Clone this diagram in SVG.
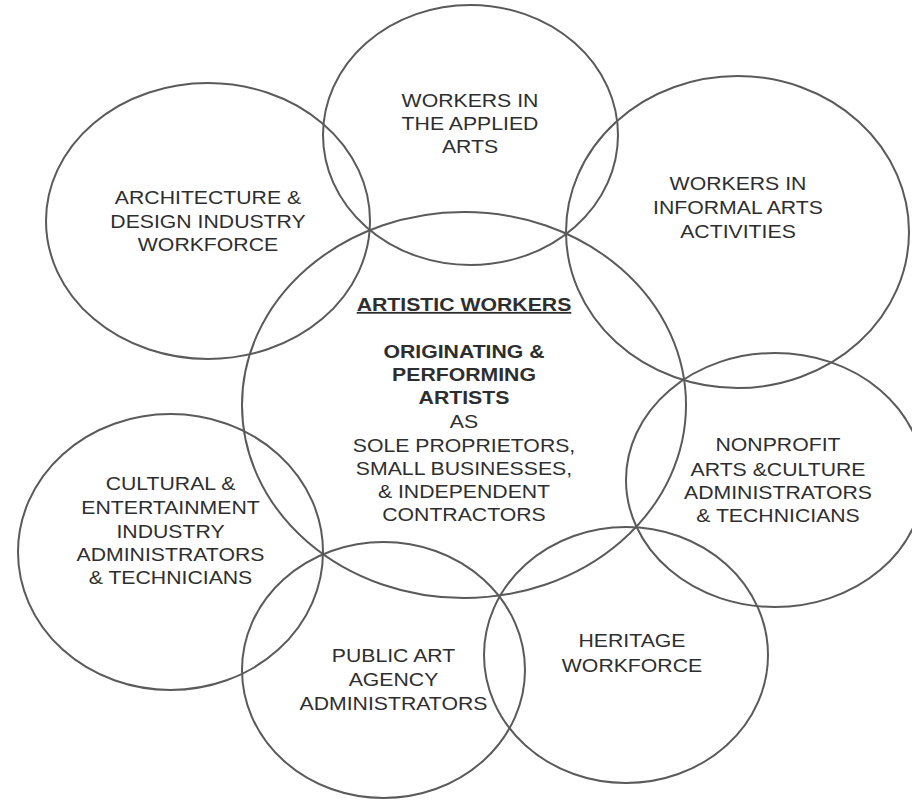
<svg xmlns="http://www.w3.org/2000/svg" width="912" height="800" viewBox="0 0 912 800">
<style>
.e{fill:none;stroke:#5a5a5a;stroke-width:2}
.t{font-family:"Liberation Sans",Arial,sans-serif;font-size:18px;fill:#2e2e2e;text-anchor:middle}
.b{font-weight:bold}
</style>
<rect width="912" height="800" fill="#fff"/>
<g id="connectors"/>
<g id="center">
<ellipse class="e" cx="464" cy="405" rx="222" ry="193"/>
<g transform="translate(464 0) scale(1.18 1)">
<text class="t b" x="0" y="311" text-decoration="underline">ARTISTIC WORKERS</text>
<text class="t b" x="0" y="358">ORIGINATING &amp;</text>
<text class="t b" x="0" y="381">PERFORMING</text>
<text class="t b" x="0" y="404">ARTISTS</text>
<text class="t" x="0" y="428">AS</text>
<text class="t" x="0" y="452">SOLE PROPRIETORS,</text>
<text class="t" x="0" y="475">SMALL BUSINESSES,</text>
<text class="t" x="0" y="498">&amp; INDEPENDENT</text>
<text class="t" x="0" y="521">CONTRACTORS</text>
</g>
</g>
<g id="applied">
<ellipse class="e" cx="470.5" cy="135" rx="147.5" ry="130"/>
<g transform="translate(470 0) scale(1.18 1)">
<text class="t" x="0" y="107">WORKERS IN</text>
<text class="t" x="0" y="130">THE APPLIED</text>
<text class="t" x="0" y="153">ARTS</text>
</g>
</g>
<g id="architecture">
<ellipse class="e" cx="208" cy="221" rx="162" ry="138"/>
<g transform="translate(208 0) scale(1.18 1)">
<text class="t" x="0" y="204">ARCHITECTURE &amp;</text>
<text class="t" x="0" y="228">DESIGN INDUSTRY</text>
<text class="t" x="0" y="251">WORKFORCE</text>
</g>
</g>
<g id="informal">
<ellipse class="e" cx="737.5" cy="232" rx="171.5" ry="156"/>
<g transform="translate(738 0) scale(1.18 1)">
<text class="t" x="0" y="190">WORKERS IN</text>
<text class="t" x="0" y="214">INFORMAL ARTS</text>
<text class="t" x="0" y="238">ACTIVITIES</text>
</g>
</g>
<g id="nonprofit">
<ellipse class="e" cx="775" cy="480" rx="149" ry="127"/>
<g transform="translate(778 0) scale(1.18 1)">
<text class="t" x="0" y="451">NONPROFIT</text>
<text class="t" x="0" y="476">ARTS &amp;CULTURE</text>
<text class="t" x="0" y="499">ADMINISTRATORS</text>
<text class="t" x="0" y="522">&amp; TECHNICIANS</text>
</g>
</g>
<g id="heritage">
<ellipse class="e" cx="626" cy="655" rx="142" ry="128"/>
<g transform="translate(632 0) scale(1.18 1)">
<text class="t" x="0" y="647">HERITAGE</text>
<text class="t" x="0" y="672">WORKFORCE</text>
</g>
</g>
<g id="publicart">
<ellipse class="e" cx="383.5" cy="670" rx="141.5" ry="128"/>
<g transform="translate(393.5 0) scale(1.18 1)">
<text class="t" x="0" y="662">PUBLIC ART</text>
<text class="t" x="0" y="686">AGENCY</text>
<text class="t" x="0" y="710">ADMINISTRATORS</text>
</g>
</g>
<g id="cultural">
<ellipse class="e" cx="170.5" cy="552" rx="152.5" ry="138"/>
<g transform="translate(170.5 0) scale(1.18 1)">
<text class="t" x="0" y="490">CULTURAL &amp;</text>
<text class="t" x="0" y="514">ENTERTAINMENT</text>
<text class="t" x="0" y="538">INDUSTRY</text>
<text class="t" x="0" y="561">ADMINISTRATORS</text>
<text class="t" x="0" y="584">&amp; TECHNICIANS</text>
</g>
</g>
</svg>
